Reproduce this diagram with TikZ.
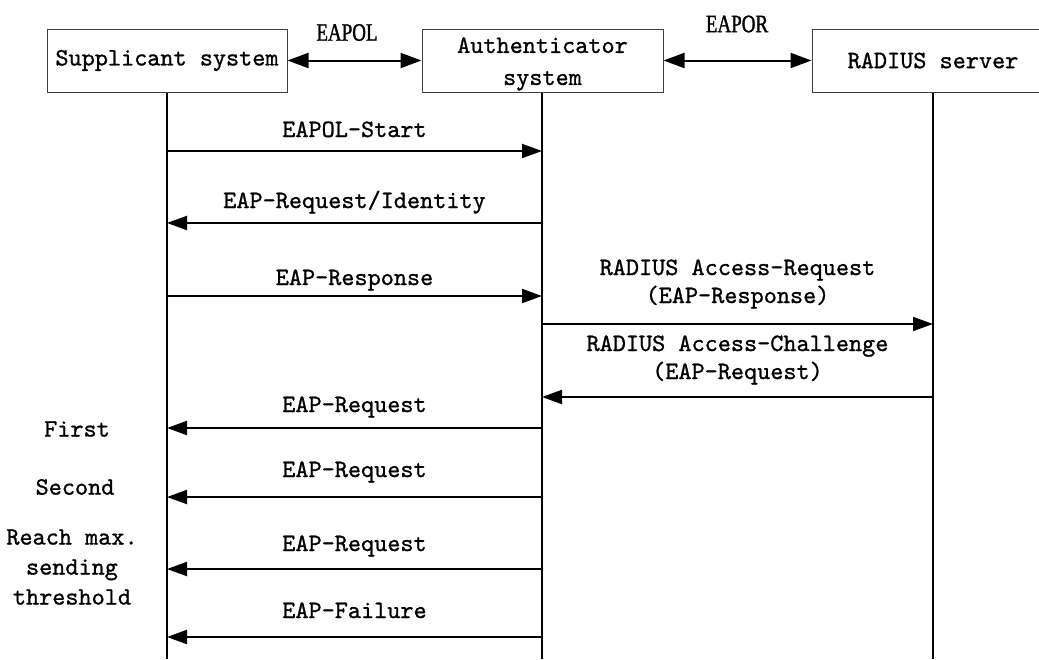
\documentclass[tikz,border=0pt]{standalone}
\usepackage{fontspec}
\newfontfamily\protofont[FakeStretch=0.76, FakeBold=1.2]{Liberation Serif}
\newfontfamily\monofont[Extension=.otf, UprightFont=lmmono10-regular,
  BoldFont=lmmono10-regular, BoldFeatures={FakeBold=1.0}]{lmmono10-regular}
\usetikzlibrary{arrows.meta}
\begin{document}
\begin{tikzpicture}[x=1pt,y=-1pt,
  monotext/.style={font=\monofont\bfseries\fontsize{25}{30}\selectfont},
  box/.style={monotext, draw=black!75, line width=1pt, minimum width=240pt,
    minimum height=63pt, align=center, inner sep=0pt},
  life/.style={line width=2pt},
  msg/.style={line width=2pt, -{Triangle[length=20pt,width=14pt]}},
  link/.style={line width=2pt,
    {Triangle[length=21pt,width=15pt]}-{Triangle[length=21pt,width=15pt]}},
  lbl/.style={monotext, anchor=base, inner sep=0pt},
  lbltwo/.style={font=\monofont\bfseries\fontsize{25}{28}\selectfont, align=center,
    anchor=south, text depth=0pt, inner sep=0pt},
  note/.style={monotext, align=center, inner sep=0pt},
  proto/.style={font=\protofont\fontsize{25}{28}\selectfont, inner sep=0pt}]
\clip (0,0) rectangle (1039,659);

% participants
\node[box] (sup) at (167,60.5) {Supplicant system};
\node[box, minimum width=241pt] (auth) at (542.5,60.5) {};
\node[note, font=\monofont\bfseries\fontsize{25}{32}\selectfont] (authtext)
  at (542.5,64) {Authenticator\\system};
\node[box, minimum width=242pt] (rad) at (933,60.5) {RADIUS server};

% protocol links between the participants
\draw[link] (sup.east) -- (auth.west);
\draw[link] (auth.east) -- (rad.west);
\node[proto] (eapol) at (347,32.5) {EAPOL};
\node[proto] (eapor) at (737,24) {EAPOR};

% lifelines
\coordinate (supEnd) at (167,659);
\coordinate (authEnd) at (542,659);
\coordinate (radEnd) at (933,659);
\draw[life] (sup.south) -- (supEnd);
\draw[life] (auth.south -| authEnd) -- (authEnd);
\draw[life] (rad.south) -- (radEnd);

% message end points on the lifelines
\coordinate (s1) at (167,151); \coordinate (a1) at (542,151);
\coordinate (s2) at (167,223); \coordinate (a2) at (542,223);
\coordinate (s3) at (167,296); \coordinate (a3) at (542,296);
\coordinate (a4) at (542,324); \coordinate (r4) at (933,324);
\coordinate (a5) at (542,397); \coordinate (r5) at (933,397);
\coordinate (s6) at (167,428); \coordinate (a6) at (542,428);
\coordinate (s7) at (167,497); \coordinate (a7) at (542,497);
\coordinate (s8) at (167,569); \coordinate (a8) at (542,569);
\coordinate (s9) at (167,637); \coordinate (a9) at (542,637);

% messages
\draw[msg] (s1) -- node[lbl, yshift=14pt] (m1) {EAPOL-Start} (a1);
\draw[msg] (a2) -- node[lbl, yshift=15pt] (m2) {EAP-Request/Identity} (s2);
\draw[msg] (s3) -- node[lbl, yshift=11pt] (m3) {EAP-Response} (a3);
\draw[msg] (a4) -- node[lbltwo, yshift=20pt] (m4) {RADIUS Access-Request\\(EAP-Response)} (r4);
\draw[msg] (r5) -- node[lbltwo, yshift=17pt] (m5) {RADIUS Access-Challenge\\(EAP-Request)} (a5);
\draw[msg] (a6) -- node[lbl, yshift=16pt] (m6) {EAP-Request} (s6);
\draw[msg] (a7) -- node[lbl, yshift=20pt] (m7) {EAP-Request} (s7);
\draw[msg] (a8) -- node[lbl, yshift=18pt] (m8) {EAP-Request} (s8);
\draw[msg] (a9) -- node[lbl, yshift=19pt] (m9) {EAP-Failure} (s9);

% retransmission notes
\node[note] (first) at (77,429) {First};
\node[note] (second) at (75,487) {Second};
\node[note] (reach) at (72,567) {Reach max.\\sending\\threshold};
\end{tikzpicture}
\end{document}
